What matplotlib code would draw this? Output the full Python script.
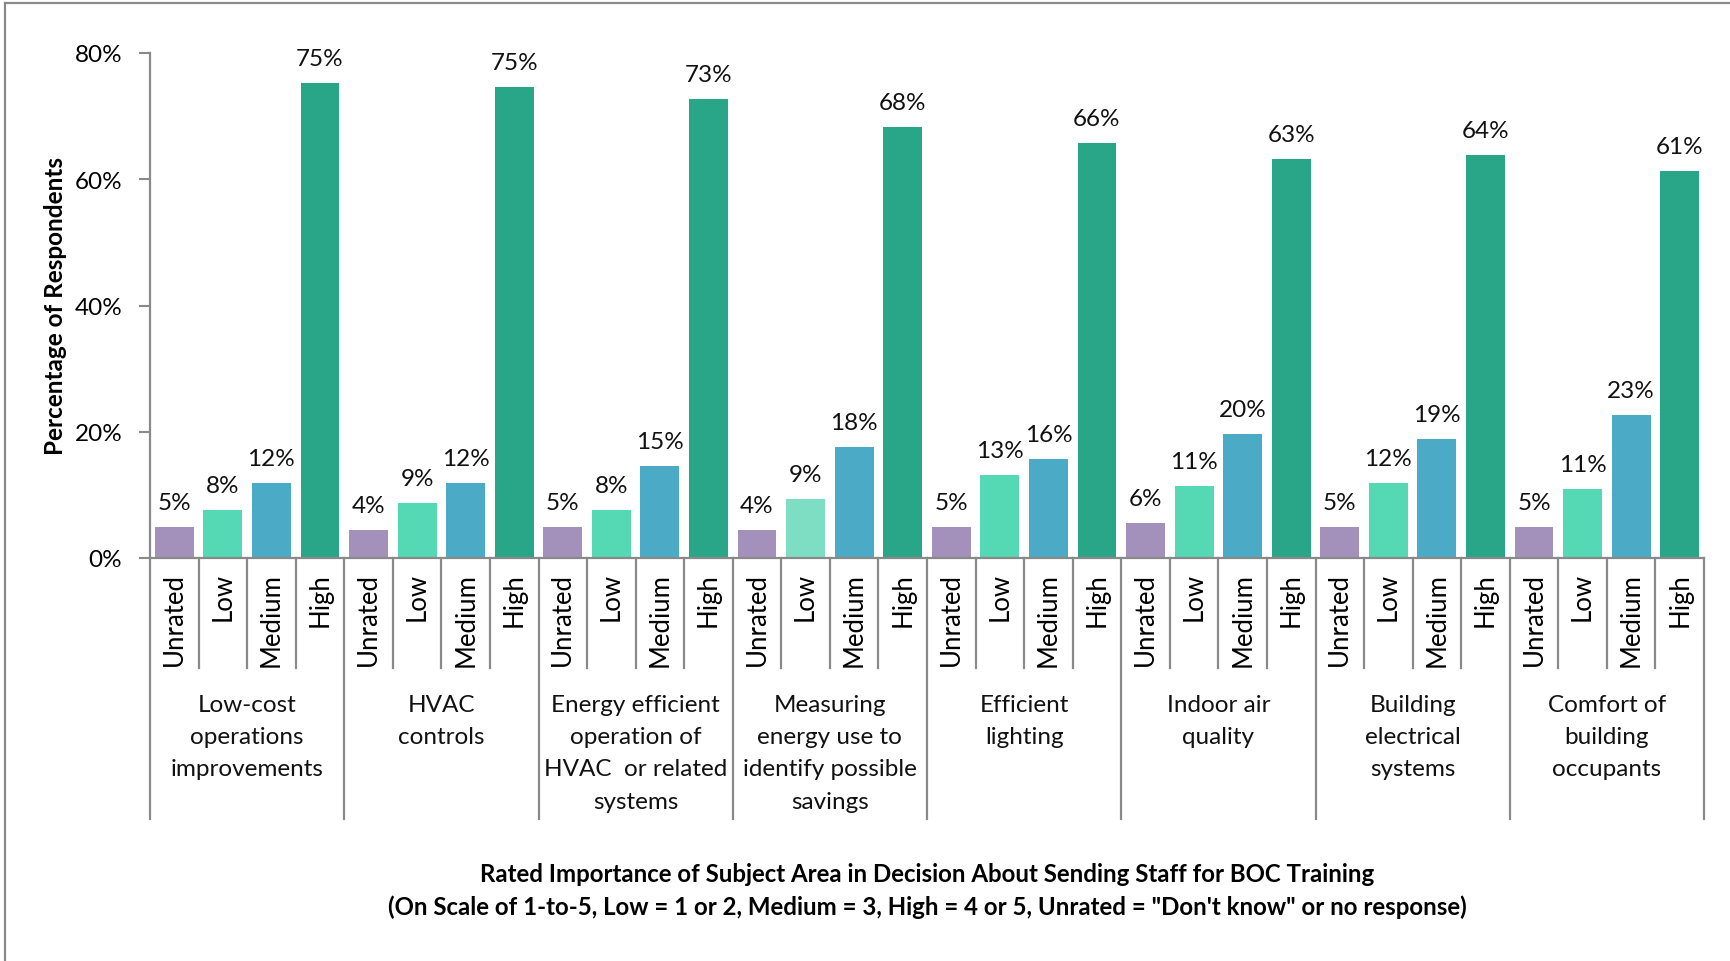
import matplotlib
matplotlib.use("Agg")
import matplotlib.pyplot as plt
from matplotlib.lines import Line2D
from matplotlib.transforms import blended_transform_factory

# Daten (in %)
subjects = ["Low-cost\noperations\nimprovements", "HVAC\ncontrols",
            "Energy efficient\noperation of\nHVAC  or related\nsystems",
            "Measuring\nenergy use to\nidentify possible\nsavings",
            "Efficient\nlighting", "Indoor air\nquality",
            "Building\nelectrical\nsystems", "Comfort of\nbuilding\noccupants"]
ratings = ["Unrated", "Low", "Medium", "High"]
unrated = [4.9, 4.4, 4.9, 4.4, 4.9, 5.6, 4.9, 4.9]
low = [7.6, 8.7, 7.6, 9.4, 13.1, 11.4, 11.9, 10.9]
medium = [11.9, 11.9, 14.6, 17.6, 15.7, 19.6, 18.9, 22.7]
high = [75.3, 74.6, 72.7, 68.3, 65.7, 63.2, 63.8, 61.3]
yticks = [0, 20, 40, 60, 80]

colors = ["#a391bb", "#55d8b4", "#4babc6", "#29a688"]
low_measuring = "#7ddec4"
grey = "#898989"
font = "Lato"

plt.rcParams['font.family'] = [font, 'DejaVu Sans']

W, H = 1730, 962
fig = plt.figure(figsize=(W / 100, H / 100), dpi=100)
ax = fig.add_axes([150 / W, 1 - 559 / H, (1704 - 150) / W, (559 - 54) / H])

series = [unrated, low, medium, high]
n = len(subjects)
for k, vals in enumerate(series):
    xs = [g * 4 + k for g in range(n)]
    cols = [colors[k]] * n
    if k == 1:
        cols[3] = low_measuring
    bars = ax.bar(xs, vals, width=0.8, color=cols, zorder=2)
    for x, v in zip(xs, vals):
        ax.annotate(f"{v:.0f}%", (x, v), xytext=(0, 10), textcoords="offset points",
                    ha="center", va="bottom", fontsize=17.5, color="#111111")

ax.set_xlim(-0.5, 4 * n - 0.5)
ax.set_ylim(0, 80)
ax.set_yticks(yticks)
ax.set_yticklabels([f"{t}%" for t in yticks], fontsize=17.5)
ax.set_xticks(range(4 * n))
ax.set_xticklabels(ratings * n, rotation=90, fontsize=18.5)
ax.tick_params(axis="x", length=0, pad=10)
ax.tick_params(axis="y", length=8, width=1.5, color=grey, pad=12)

for s in ["top", "right"]:
    ax.spines[s].set_visible(False)
for s in ["left", "bottom"]:
    ax.spines[s].set_color(grey)
    ax.spines[s].set_linewidth(1.6)

# Trennlinien unter der Achse
tr = blended_transform_factory(ax.transData, ax.transAxes)
for i in range(4 * n + 1):
    xb = i - 0.5
    y_end = -0.517 if i % 4 == 0 else -0.218
    ax.plot([xb, xb], [0, y_end], color=grey, lw=1.6, transform=tr, clip_on=False)

# Gruppenbeschriftung
for g, name in enumerate(subjects):
    ax.text(g * 4 + 1.5, -0.269, name, transform=tr, ha="center", va="top",
            fontsize=17.5, linespacing=1.66, color="#111111")

ax.set_ylabel("Percentage of Respondents", fontsize=17.5, fontweight="bold")
ax.yaxis.set_label_coords((67 - 150) / 1554, 0.5)

fig.text((150 + 1704) / 2 / W, 1 - 875 / H,
         "Rated Importance of Subject Area in Decision About Sending Staff for BOC Training",
         ha="center", va="center", fontsize=17.3, fontweight="bold")
fig.text((150 + 1704) / 2 / W, 1 - 907 / H,
         "(On Scale of 1-to-5, Low = 1 or 2, Medium = 3, High = 4 or 5, Unrated = \"Don't know\" or no response)",
         ha="center", va="center", fontsize=17.3, fontweight="bold")

# Rahmen links und oben
fig.add_artist(Line2D([5 / W, 5 / W], [0, 1 - 4 / H], color=grey, lw=1.6, transform=fig.transFigure))
fig.add_artist(Line2D([5 / W, 1], [1 - 4 / H, 1 - 4 / H], color=grey, lw=1.6, transform=fig.transFigure))

fig.savefig("out.png", dpi=100)
